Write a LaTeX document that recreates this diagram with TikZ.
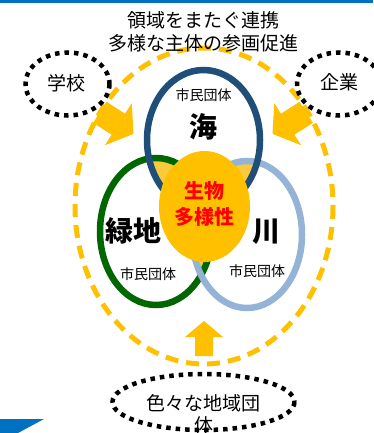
\documentclass[tikz,border=0pt]{standalone}
\usepackage{fontspec}
\setmainfont{Noto Sans CJK JP}
\begin{document}
\begin{tikzpicture}[x=1pt,y=-1pt,
  gold/.style={fill={rgb,255:red,255;green,192;blue,0}},
  dashring/.style={draw={rgb,255:red,255;green,192;blue,0},line width=5pt,dash pattern=on 13pt off 8pt},
  dotring/.style={draw=black,line width=4.5pt,dash pattern=on 4.5pt off 5pt},
  lbl/.style={inner sep=0pt,font=\fontsize{19}{24}\selectfont,text=black},
  small/.style={inner sep=0pt,font=\fontsize{14}{16}\selectfont,text=black},
  big/.style={inner sep=0pt,font=\fontsize{28}{30}\selectfont\bfseries},
  ring/.style={line width=6.5pt},
  lensfill/.style={fill={rgb,255:red,250;green,202;blue,60}}]
\useasboundingbox (0,0) rectangle (373,433);
\definecolor{topblue}{HTML}{0070C0}
\definecolor{seablue}{HTML}{1F4E79}
\definecolor{greenc}{HTML}{006600}
\definecolor{riverc}{HTML}{95B3D7}
% bars
\fill[topblue] (0,0) rectangle (373,3);
\fill[topblue] (0,419) -- (44,419) -- (18,433) -- (0,433) -- cycle;
% big dashed ring
\draw[dashring] (204,206) ellipse [x radius=129, y radius=158];
% block arrows
\fill[gold] (93.1,122.8) -- (111.6,134.7) -- (104.8,145.3) -- (133.5,133.9) -- (131.8,103.2) -- (125.0,113.7) -- (106.5,101.8) -- cycle;
\fill[gold] (312.9,122.8) -- (294.4,134.7) -- (301.2,145.3) -- (272.5,133.9) -- (274.2,103.2) -- (281.0,113.7) -- (299.5,101.8) -- cycle;
\fill[gold] (195,356) -- (213,356) -- (213,337) -- (223,337) -- (204,321) -- (185,337) -- (195,337) -- cycle;
% dotted ellipses
\draw[dotring] (67.5,84) ellipse [x radius=42, y radius=31.5];
\draw[dotring] (339,84) ellipse [x radius=42, y radius=31.5];
\draw[dotring] (203.5,402) ellipse [x radius=91, y radius=28];
% lens fills
\begin{scope}
  \clip (203.5,140) ellipse [x radius=56.5, y radius=70];
  \fill[lensfill] (156,231.5) ellipse [x radius=56, y radius=73.5];
  \fill[lensfill] (247,234.5) ellipse [x radius=55, y radius=73.5];
\end{scope}
\begin{scope}
  \clip (156,231.5) ellipse [x radius=56, y radius=73.5];
  \fill[lensfill] (247,234.5) ellipse [x radius=55, y radius=73.5];
\end{scope}
% rings
\draw[ring,draw=greenc] (156,231.5) ellipse [x radius=56, y radius=73.5];
\draw[ring,draw=riverc] (247,234.5) ellipse [x radius=55, y radius=73.5];
\draw[ring,draw=seablue] (203.5,140) ellipse [x radius=56.5, y radius=70];
% centre
\fill[gold] (204.5,206.5) ellipse [x radius=45.5, y radius=55.5];
% texts
\node[lbl] (t1) at (203.5,20) {領域をまたぐ連携};
\node[lbl] (t2) at (203.5,43) {多様な主体の参画促進};
\node[lbl] (school) at (66,83) {学校};
\node[lbl] (firm) at (339,82) {企業};
\node[lbl,align=center,font=\fontsize{19}{22}\selectfont] (local) at (203.5,414) {色々な地域団\\体};
\node[small] (c1) at (203.5,95) {市民団体};
\node[small] (c2) at (148,274) {市民団体};
\node[small] (c3) at (257,271) {市民団体};
\node[big] (sea) at (203.5,127) {海};
\node[big] (green) at (133.5,231) {緑地};
\node[big] (river) at (266,232) {川};
\node[inner sep=0pt,align=center,text=red,font=\fontsize{20}{26}\selectfont\bfseries] (bio) at (204.5,204) {生物\\多様性};
\end{tikzpicture}
\end{document}
